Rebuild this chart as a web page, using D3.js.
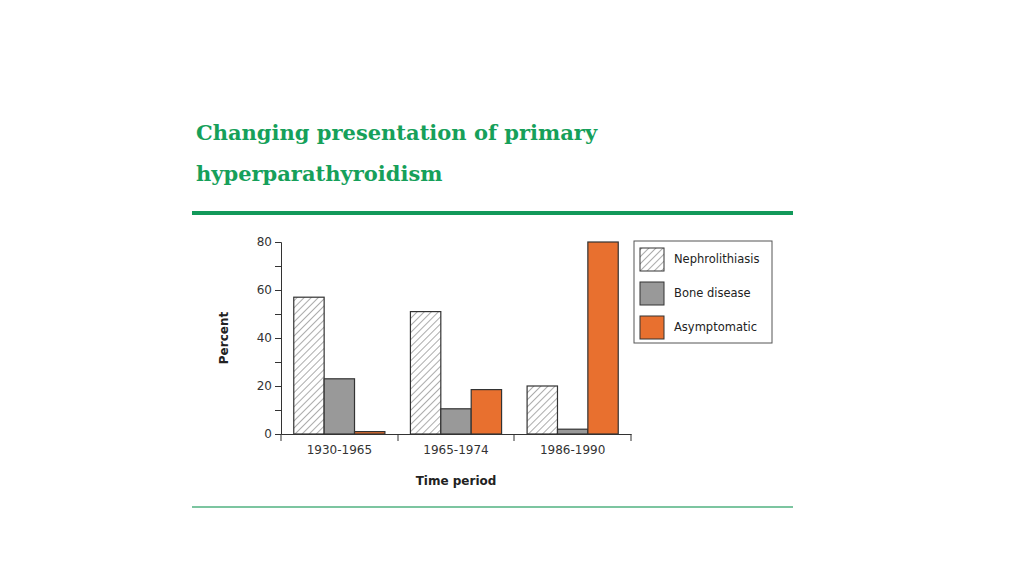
<!DOCTYPE html>
<html><head><meta charset="utf-8">
<script src="https://cdn.jsdelivr.net/npm/d3@7"></script>
<style>body{margin:0;background:#fff}</style></head>
<body><svg id="c" width="1024" height="576"></svg>
<script>
// Data
const periods = ["1930-1965", "1965-1974", "1986-1990"];
const seriesNames = ["Nephrolithiasis", "Bone disease", "Asymptomatic"];
const nephrolithiasis = [57, 51, 20];
const boneDisease = [23, 10.5, 2];
const asymptomatic = [1, 18.5, 80];
const yTicks = [0, 20, 40, 60, 80];

const svg = d3.select("#c");
const green = "#16a05a";

// Titre
svg.append("text").attr("x", 196).attr("y", 140).attr("fill", green)
    .attr("font-family", "DejaVu Serif").attr("font-weight", "bold").attr("font-size", 21)
    .text("Changing presentation of primary");
svg.append("text").attr("x", 196).attr("y", 181).attr("fill", green)
    .attr("font-family", "DejaVu Serif").attr("font-weight", "bold").attr("font-size", 21)
    .text("hyperparathyroidism");
svg.append("rect").attr("x", 192).attr("y", 211).attr("width", 601).attr("height", 4).attr("fill", "#12995a");
svg.append("rect").attr("x", 192).attr("y", 506).attr("width", 601).attr("height", 2).attr("fill", "#7cc5a0");

// Motif hachuré
const defs = svg.append("defs");
const pat = defs.append("pattern").attr("id", "hatch").attr("patternUnits", "userSpaceOnUse")
    .attr("width", 5).attr("height", 5).attr("patternTransform", "rotate(45)");
pat.append("rect").attr("width", 5).attr("height", 5).attr("fill", "#fff");
pat.append("line").attr("x1", 0).attr("y1", 0).attr("x2", 0).attr("y2", 5)
    .attr("stroke", "#888").attr("stroke-width", 1.4);

const fills = ["url(#hatch)", "#999999", "#e8702f"];
const values = [nephrolithiasis, boneDisease, asymptomatic];

const x = d3.scaleBand().domain(periods).range([281, 631]);
const xi = d3.scaleBand().domain(d3.range(3)).range([0, x.bandwidth()]).paddingOuter(0.42).paddingInner(0);
const y = d3.scaleLinear().domain([0, 80]).range([434, 242]);

const g = svg.append("g").attr("font-family", "Verdana, DejaVu Sans, sans-serif");

// Barres
values.forEach((vals, s) => {
    g.selectAll(null).data(periods).enter().append("rect")
        .attr("x", d => x(d) + xi(s))
        .attr("y", (d, i) => y(vals[i]))
        .attr("width", xi.bandwidth())
        .attr("height", (d, i) => y(0) - y(vals[i]))
        .attr("fill", fills[s]).attr("stroke", "#333").attr("stroke-width", 1.2);
});

// Axe Y
const ya = g.append("g").attr("transform", "translate(281,0)")
    .call(d3.axisLeft(y).tickValues(d3.range(0, 81, 10)).tickSize(6)
        .tickFormat(d => yTicks.includes(d) ? d : ""));
ya.select(".domain").attr("stroke", "#333");
ya.selectAll("line").attr("stroke", "#333");
ya.selectAll("text").attr("font-size", 12).attr("fill", "#333").attr("font-family", "Verdana, DejaVu Sans");

// Axe X
const xa = g.append("g").attr("transform", "translate(0,434)")
    .call(d3.axisBottom(x).tickSize(0).tickSizeOuter(0));
xa.select(".domain").attr("stroke", "#333");
xa.selectAll("text").attr("font-size", 12).attr("fill", "#333").attr("dy", "1.4em").attr("font-family", "Verdana, DejaVu Sans");
g.selectAll(null).data([281, 398, 514, 631]).enter().append("line")
    .attr("x1", d => d).attr("x2", d => d).attr("y1", 434).attr("y2", 441).attr("stroke", "#333");

g.append("text").attr("x", 456).attr("y", 485).attr("text-anchor", "middle")
    .attr("font-size", 12).attr("font-weight", "bold").attr("fill", "#222").text("Time period");
g.append("text").attr("transform", "translate(228,338) rotate(-90)").attr("text-anchor", "middle")
    .attr("font-size", 12).attr("font-weight", "bold").attr("fill", "#222").text("Percent");

// Légende
const lg = g.append("g").attr("transform", "translate(634,241)");
lg.append("rect").attr("width", 138).attr("height", 102).attr("fill", "#fff").attr("stroke", "#555");
seriesNames.forEach((n, i) => {
    lg.append("rect").attr("x", 6).attr("y", 7 + i * 34).attr("width", 24).attr("height", 23)
        .attr("fill", fills[i]).attr("stroke", "#333");
    lg.append("text").attr("x", 40).attr("y", 22 + i * 34).attr("font-size", 11.5).attr("fill", "#222").text(n);
});
</script></body></html>
